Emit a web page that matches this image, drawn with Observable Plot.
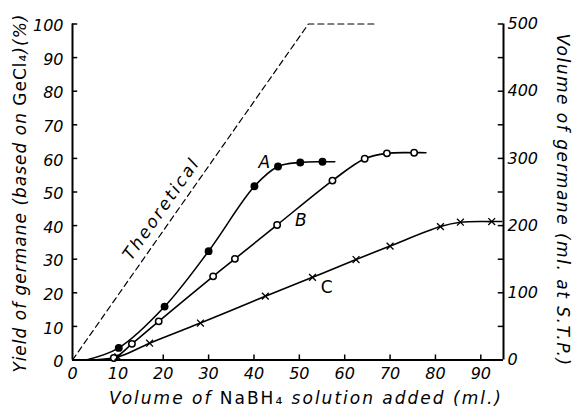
<!DOCTYPE html>
<html><head><meta charset="utf-8">
<script src="https://cdn.jsdelivr.net/npm/d3@7"></script>
<script src="https://cdn.jsdelivr.net/npm/@observablehq/plot@0.6"></script>
<style>
html,body{margin:0;padding:0;background:#fff}
.xttl text{letter-spacing:2px}
.yttl text{letter-spacing:1px}
.y2ttl text{letter-spacing:1.5px}
.theo text{letter-spacing:2.3px}
</style>
</head><body><div id="chart"></div>
<script>
// Tick values
const xTicks = [0, 10, 20, 30, 40, 50, 60, 70, 80, 90];
const yTicks = [0, 10, 20, 30, 40, 50, 60, 70, 80, 90, 100];
const rightTickLabels = [0, 100, 200, 300, 400, 500];
const rightMinorTicks = [0, 50, 100, 150, 200, 250, 300, 350, 400, 450, 500];

// Series (first point = start of line at axis, last point = end of line; both unmarked)
const seriesAX = [3, 10.2, 20.3, 30.0, 40.1, 45.3, 50.2, 55.1, 57.8];
const seriesAY = [0, 3.6, 15.9, 32.4, 51.7, 57.6, 58.8, 59.0, 59.0];
const seriesBX = [3.5, 9.1, 13.1, 19.0, 31.0, 35.8, 45.1, 57.3, 64.4, 69.3, 75.3, 77.9];
const seriesBY = [0, 0.6, 4.8, 11.5, 24.9, 30.1, 40.2, 53.4, 59.9, 61.5, 61.7, 61.7];
const seriesCX = [3, 10.0, 17.0, 28.2, 42.5, 52.9, 62.5, 70.0, 81.1, 85.5, 92.4, 94.6];
const seriesCY = [0, 0.9, 5.0, 11.0, 19.0, 24.6, 29.9, 33.9, 39.7, 41.0, 41.2, 41.2];
const theoreticalX = [0, 52, 67.2];
const theoreticalY = [0, 100, 100];

const seriesNames = ["A", "B", "C"];
const xTitle = ["Volume of ", "NaBH", "₄", " solution added (ml.)"];
const yTitle = ["Yield of germane (based on ", "GeCl", "₄", ")(%)"];
const y2Title = "Volume of germane (ml. at S.T.P.)";

const rows = (xs, ys) => xs.map((x, i) => ({x, y: ys[i]}));
const A = rows(seriesAX, seriesAY);
const B = rows(seriesBX, seriesBY);
const C = rows(seriesCX, seriesCY);
const T = rows(theoreticalX, theoreticalY);
const marked = (d) => d.slice(1, -1);

const font = "DejaVu Sans";

const chart = Plot.plot({
  width: 578,
  height: 410,
  marginLeft: 72,
  marginRight: 75,
  marginTop: 23.5,
  marginBottom: 50.5,
  x: {domain: [0, 95]},
  y: {domain: [0, 100]},
  style: {fontFamily: font, fontStyle: "italic", fontSize: "16px", background: "white", color: "black", overflow: "visible"},
  marks: [
    // axis tick labels
    Plot.axisX(xTicks, {tickSize: 0, tickPadding: 8, label: null, fontSize: 16}),
    Plot.axisY(yTicks, {tickSize: 0, tickPadding: 9, label: null, fontSize: 16, dy: 2}),
    Plot.text(rightTickLabels, {x: 95, y: d => d / 5, text: d => String(d), textAnchor: "start", dx: 4, fontSize: 16}),
    // inward ticks
    Plot.ruleY(yTicks, {y: d => d, x1: 0, x2: 1.15, strokeWidth: 1.5}),
    Plot.ruleY(rightMinorTicks, {y: d => d / 5, x1: 93.85, x2: 95, strokeWidth: 1.5}),
    Plot.ruleX(xTicks.slice(1), {x: d => d, y1: 0, y2: 1.5, strokeWidth: 1.5}),
    // axis lines
    Plot.ruleX([0], {strokeWidth: 2}),
    Plot.ruleX([95], {strokeWidth: 2}),
    Plot.ruleY([0], {strokeWidth: 2}),
    // theoretical
    Plot.line(T, {x: "x", y: "y", strokeWidth: 1.2, strokeDasharray: "6,4"}),
    Plot.text(["Theoretical"], {x: 19.6, y: 45, rotate: -55, fontSize: 17, className: "theo"}),
    // curves
    Plot.line(A, {x: "x", y: "y", curve: "catmull-rom", strokeWidth: 1.6}),
    Plot.line(B, {x: "x", y: "y", curve: "catmull-rom", strokeWidth: 1.6}),
    Plot.line(C, {x: "x", y: "y", curve: "catmull-rom", strokeWidth: 1.6}),
    Plot.dot(marked(A), {x: "x", y: "y", r: 3.2, fill: "black", stroke: "black"}),
    Plot.dot(marked(B), {x: "x", y: "y", r: 3.2, fill: "white", stroke: "black", strokeWidth: 1.5}),
    Plot.dot(marked(C), {x: "x", y: "y", r: 3.2, symbol: "times", stroke: "black", strokeWidth: 1.3}),
    // curve labels
    Plot.text([seriesNames[0]], {x: 42.3, y: 58.8, fontSize: 17}),
    Plot.text([seriesNames[1]], {x: 50.3, y: 41.5, fontSize: 17}),
    Plot.text([seriesNames[2]], {x: 56.0, y: 21.6, fontSize: 17, fontStyle: "normal"}),
    // axis titles
    Plot.text([xTitle.join("")], {frameAnchor: "bottom", textAnchor: "middle", lineAnchor: "middle", dy: 39, dx: 18, fontSize: 17, className: "xttl"}),
    Plot.text([yTitle.join("")], {frameAnchor: "left", textAnchor: "middle", lineAnchor: "middle", rotate: -90, dx: -52, dy: 1, fontSize: 17, className: "yttl"}),
    Plot.text([y2Title], {frameAnchor: "right", textAnchor: "middle", lineAnchor: "middle", rotate: 90, dx: 59, dy: 8, fontSize: 17, className: "y2ttl"})
  ]
});

// Upright chemical formulae inside the italic titles
function splitTitle(sel, parts) {
  const t = d3.select(chart).select(sel + " text");
  if (t.empty()) return;
  t.text(null);
  parts.forEach((p, i) => {
    const s = t.append("tspan").text(p);
    if (i === 1 || i === 2) s.attr("font-style", "normal");
  });
}
splitTitle(".xttl", xTitle);
splitTitle(".yttl", yTitle);

document.getElementById("chart").appendChild(chart);
</script>
</body></html>
